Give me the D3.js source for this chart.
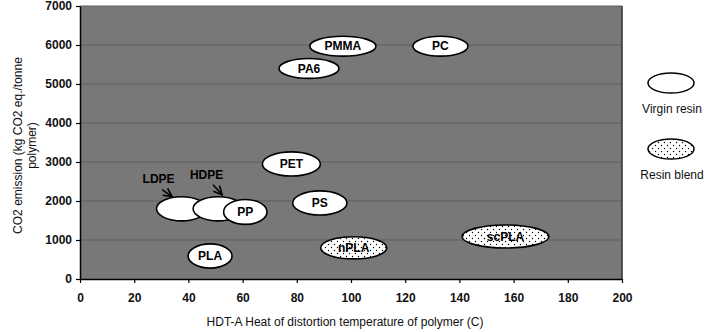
<!DOCTYPE html>
<html><head><meta charset="utf-8">
<script src="https://cdn.jsdelivr.net/npm/d3@7"></script>
<style>body{margin:0;background:#fff;} text{font-family:"Liberation Sans",Arial,sans-serif;}</style>
</head><body><svg id="c" width="708" height="332"></svg>
<script>
// Data
const polymers = ["LDPE","HDPE","PP","PLA","PET","PS","nPLA","scPLA","PA6","PMMA","PC"];
const hdt      = [37.5, 51, 61, 48, 78, 88.5, 101, 157, 84.5, 97, 133];      // HDT-A (C), ellipse centre
const co2      = [1800, 1800, 1720, 590, 2950, 1950, 800, 1090, 5400, 5970, 5970]; // kg CO2 eq./tonne
const hdtSpan  = [18.5, 18.5, 16, 16.2, 21.4, 20, 24.4, 32, 22.1, 24.4, 20.3]; // ellipse width in C
const co2Span  = [620, 620, 640, 620, 620, 620, 570, 590, 510, 510, 510];      // ellipse height in kg
const isBlend  = [false,false,false,false,false,false,true,true,false,false,false];
const showLabelInside = [false,false,true,true,true,true,true,true,true,true,true];
const xTicks = [0,20,40,60,80,100,120,140,160,180,200];
const yTicks = [0,1000,2000,3000,4000,5000,6000,7000];
const legendItems = ["Virgin resin","Resin blend"];
const calloutNames = ["LDPE","HDPE"];
const calloutX = [29, 46.7];
const calloutY = [2470, 2570];

const svg = d3.select("#c");
const m = {l:80, r:622, t:6, b:279};
const x = d3.scaleLinear().domain([0,200]).range([m.l, m.r]);
const y = d3.scaleLinear().domain([0,7000]).range([m.b, m.t]);

const defs = svg.append("defs");
const pat = defs.append("pattern").attr("id","dots").attr("patternUnits","userSpaceOnUse")
  .attr("width",6).attr("height",6);
pat.append("rect").attr("width",6).attr("height",6).attr("fill","#fff");
pat.append("circle").attr("cx",1.5).attr("cy",1.5).attr("r",0.7).attr("fill","#000");
pat.append("circle").attr("cx",4.5).attr("cy",4.5).attr("r",0.7).attr("fill","#000");
const mk = defs.append("marker").attr("id","arr").attr("viewBox","0 0 10 10").attr("refX",9).attr("refY",5)
  .attr("markerWidth",7).attr("markerHeight",7).attr("orient","auto-start-reverse");
mk.append("path").attr("d","M1,1 L9,5 L1,9").attr("fill","none").attr("stroke","#000").attr("stroke-width",1.6);

svg.append("rect").attr("x",m.l).attr("y",m.t).attr("width",m.r-m.l).attr("height",m.b-m.t).attr("fill","#787878");
svg.append("g").selectAll("line").data(yTicks.slice(1)).join("line")
  .attr("x1",m.l).attr("x2",m.r).attr("y1",d=>y(d)).attr("y2",d=>y(d))
  .attr("stroke","#5e5e5e").attr("stroke-width",1);
svg.append("line").attr("x1",m.r).attr("x2",m.r).attr("y1",m.t).attr("y2",m.b).attr("stroke","#333").attr("stroke-width",1.5);

const xa = svg.append("g").attr("transform",`translate(0,${m.b})`)
  .call(d3.axisBottom(x).tickValues(xTicks).tickFormat(d3.format("d")).tickSize(4).tickSizeOuter(0).tickPadding(10));
const ya = svg.append("g").attr("transform",`translate(${m.l},0)`)
  .call(d3.axisLeft(y).tickValues(yTicks).tickFormat(d3.format("d")).tickSize(4).tickSizeOuter(0).tickPadding(4));
[xa,ya].forEach(a=>{
  a.selectAll("path").attr("stroke","#000").attr("stroke-width",1.5);
  a.selectAll("line").attr("stroke","#000").attr("stroke-width",1.2);
  a.selectAll("text").attr("font-size",12).attr("font-weight","bold").attr("fill","#111")
   .attr("font-family","'Liberation Sans',Arial,sans-serif");
});

// ellipses
const data = polymers.map((p,i)=>({p,x:hdt[i],y:co2[i],w:hdtSpan[i],h:co2Span[i],b:isBlend[i],lab:showLabelInside[i]}));
const g = svg.append("g");
data.forEach(d=>{
  const rx = (x(d.x+d.w/2)-x(d.x-d.w/2))/2, ry = (y(d.y-d.h/2)-y(d.y+d.h/2))/2;
  g.append("ellipse").attr("cx",x(d.x)).attr("cy",y(d.y)).attr("rx",rx).attr("ry",ry)
    .attr("fill",d.b?"url(#dots)":"#fff").attr("stroke","#000").attr("stroke-width",1.6);
  if(d.lab) g.append("text").attr("x",x(d.x)).attr("y",y(d.y)).attr("dy","0.36em").attr("text-anchor","middle")
    .attr("font-size",12).attr("font-weight","bold").attr("fill","#000").text(d.p);
});
// callouts (arrow offsets relative to label, px)
const arrowOff = [[3.5,7,13.5,14],[6.5,6,15.5,16]];
calloutNames.forEach((n,i)=>{
  const tx = x(calloutX[i]), ty = y(calloutY[i]);
  svg.append("text").attr("x",tx).attr("y",ty).attr("text-anchor","middle").attr("font-size",12)
    .attr("font-weight","bold").attr("fill","#000").text(n);
  const o = arrowOff[i];
  svg.append("line").attr("x1",tx+o[0]).attr("y1",ty+o[1]).attr("x2",tx+o[2]).attr("y2",ty+o[3])
    .attr("stroke","#000").attr("stroke-width",1.5).attr("marker-end","url(#arr)");
});

// legend
const lg = svg.append("g");
legendItems.forEach((t,i)=>{
  const cy = 83 + i*66;
  lg.append("ellipse").attr("cx",671).attr("cy",cy).attr("rx",23).attr("ry",10)
    .attr("fill",i?"url(#dots)":"#fff").attr("stroke","#000").attr("stroke-width",1.5);
  lg.append("text").attr("x",672).attr("y",cy+30).attr("text-anchor","middle").attr("font-size",12)
    .attr("fill","#111").text(t);
});

// axis titles
svg.append("text").attr("x",345).attr("y",326).attr("text-anchor","middle").attr("font-size",12)
  .attr("fill","#111").text("HDT-A Heat of distortion temperature of polymer (C)");
const yt = svg.append("text").attr("transform",`translate(22,${(m.t+m.b)/2+3}) rotate(-90)`).attr("text-anchor","middle")
  .attr("font-size",12).attr("fill","#111");
yt.append("tspan").attr("x",0).attr("y",0).text("CO2 emission (kg CO2 eq./tonne");
yt.append("tspan").attr("x",0).attr("y",14).text("polymer)");
</script></body></html>
